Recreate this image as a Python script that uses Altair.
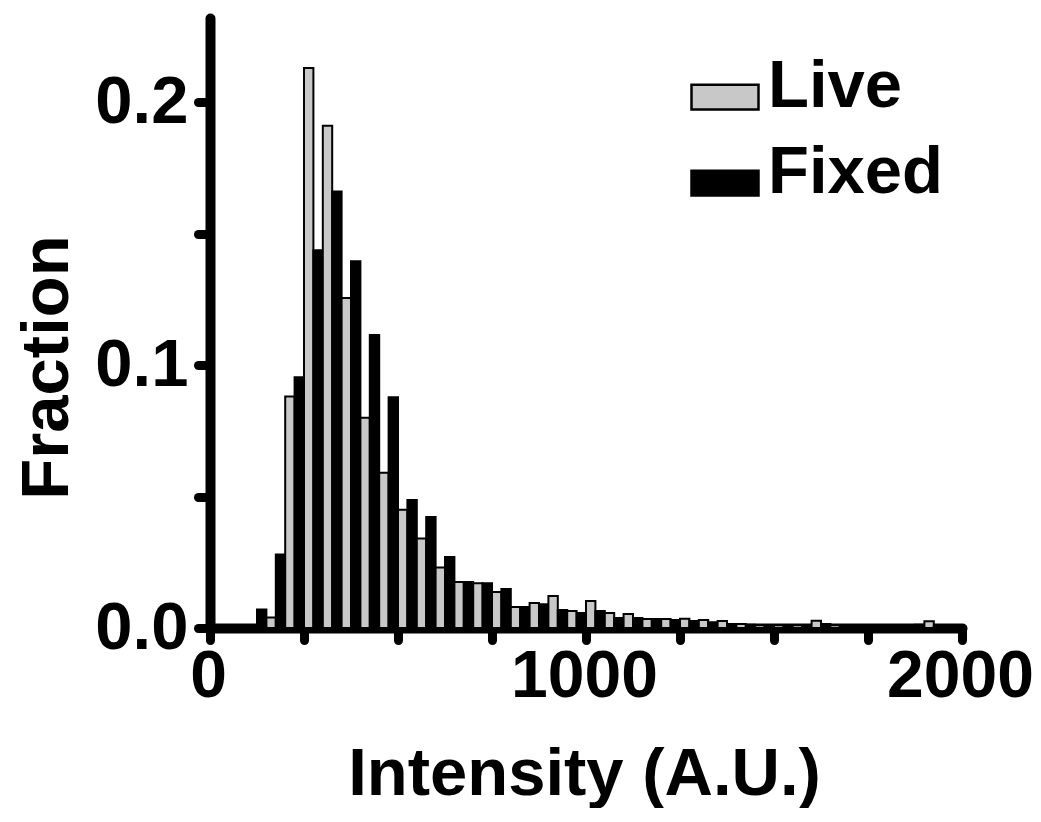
import altair as alt
import pandas as pd

# Histogram bin starts (intensity, A.U.), bin width 50; Live occupies first half, Fixed second half
bin_starts = [100, 150, 200, 250, 300, 350, 400, 450, 500, 550, 600, 650, 700, 750,
              800, 850, 900, 950, 1000, 1050, 1100, 1150, 1200, 1250, 1300, 1350,
              1400, 1450, 1500, 1550, 1600, 1650, 1700, 1750, 1800, 1850, 1900, 1950]

live = [0.0, 0.004, 0.088, 0.213, 0.191, 0.1255, 0.080, 0.059, 0.045, 0.034, 0.023,
        0.0175, 0.017, 0.0137, 0.008, 0.0095, 0.0122, 0.0065, 0.0103, 0.0057, 0.0053,
        0.0034, 0.0034, 0.0035, 0.003, 0.0027, 0.0015, 0.001, 0.001, 0.001, 0.0028,
        0.001, 0.0008, 0.0008, 0.0005, 0.0005, 0.0026, 0.0005]

fixed = [0.007, 0.028, 0.0954, 0.1437, 0.166, 0.1395, 0.1114, 0.0878, 0.0487, 0.0422,
         0.027, 0.0175, 0.017, 0.0148, 0.008, 0.009, 0.0068, 0.0057, 0.0065, 0.0038,
         0.0038, 0.0034, 0.003, 0.0027, 0.0022, 0.0015, 0.0012, 0.001, 0.001, 0.001,
         0.0015, 0.001, 0.0008, 0.0005, 0.0005, 0.0012, 0.0008, 0.0005]

series = ["Live", "Fixed"]
half_width = 25

rows = []
for i, s in enumerate(bin_starts):
    rows.append({"Series": "Live", "x0": s, "x1": s + half_width, "frac": live[i]})
    rows.append({"Series": "Fixed", "x0": s + half_width, "x1": s + 2 * half_width, "frac": fixed[i]})
df = pd.DataFrame(rows)

FONT = "Liberation Sans"

bars = alt.Chart(df).mark_rect(stroke="black", strokeWidth=2).encode(
    x=alt.X("x0:Q",
            scale=alt.Scale(domain=[0, 2000], nice=False, zero=False),
            axis=alt.Axis(values=[0, 250, 500, 750, 1000, 1250, 1500, 1750, 2000],
                          labelExpr="datum.value % 1000 === 0 ? datum.label : ''",
                          format="d", labelPadding=4, labelFontSize=66, labelOffset=-2,
                          title="Intensity (A.U.)",
                          titleX=374, titleY=166, titleBaseline="alphabetic",
                          titleAnchor="middle", titleAlign="center")),
    x2="x1:Q",
    y=alt.Y("frac:Q",
            scale=alt.Scale(domain=[0, 0.232], nice=False),
            axis=alt.Axis(values=[0, 0.05, 0.1, 0.15, 0.2],
                          labelExpr="datum.value === 0.05 || datum.value === 0.15 ? '' : format(datum.value, '.1f')",
                          labelPadding=10,
                          title="Fraction",
                          titleX=-143, titleY=349, titleBaseline="alphabetic",
                          titleAngle=-90, titleAlign="center")),
    y2=alt.datum(0),
    color=alt.Color("Series:N",
                    scale=alt.Scale(domain=series, range=["#c8c8c8", "#000000"]),
                    legend=alt.Legend(title=None, orient="none", legendX=480, legendY=34,
                                      symbolType="M-1,-0.07L1,-0.07L1,0.67L-1,0.67Z",
                                      symbolSize=4489, symbolStrokeColor="black",
                                      symbolStrokeWidth=2.5, symbolOpacity=1,
                                      labelFont=FONT, labelFontSize=67, labelFontWeight="bold",
                                      labelColor="black", labelOffset=8, rowPadding=18,
                                      padding=0, labelLimit=400)),
)

chart = bars.properties(
    width=752, height=610,
    autosize=alt.AutoSizeParams(type="none"),
    padding={"left": 202, "top": 10, "right": 71, "bottom": 180},
).configure_view(stroke=None).configure_axis(
    domainColor="black", domainWidth=10, domainCap="round",
    tickColor="black", tickWidth=9, tickSize=12, tickCap="round",
    labelFont=FONT, labelFontSize=67, labelFontWeight="bold", labelColor="black",
    grid=False, zindex=1,
    titleFont=FONT, titleFontSize=67, titleFontWeight="bold", titleColor="black",
    labelOverlap=False, labelFlush=False,
)

chart.save("out.html", embed_options={"renderer": "svg", "actions": False})
